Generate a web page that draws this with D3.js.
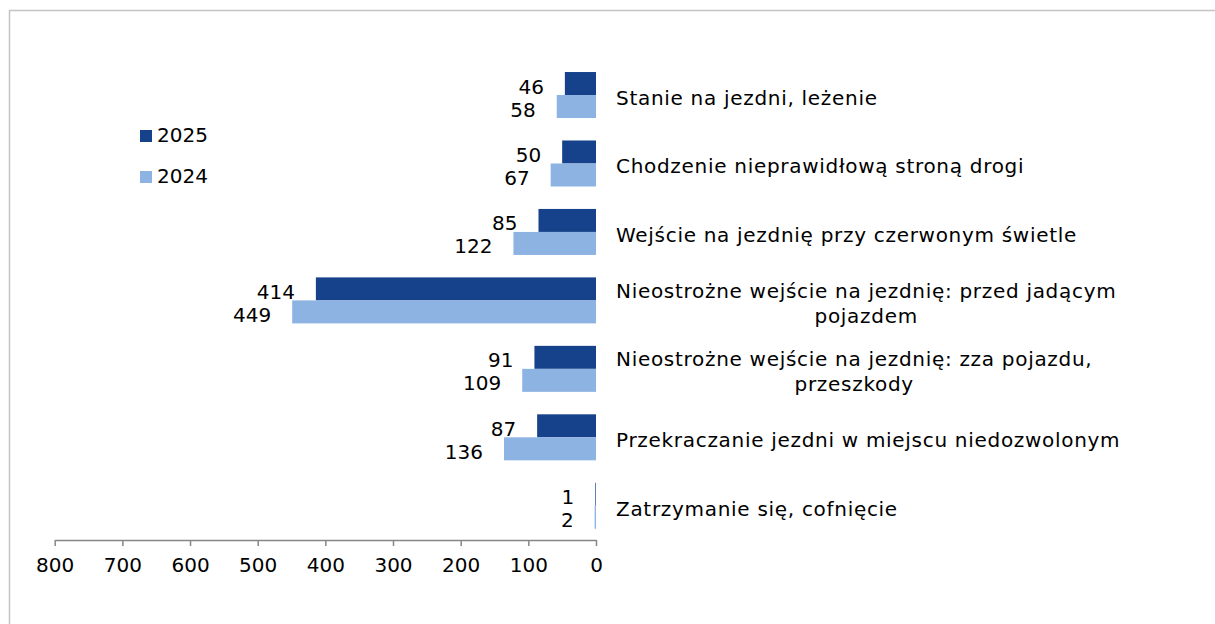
<!DOCTYPE html>
<html>
<head>
<meta charset="utf-8">
<script src="https://cdn.jsdelivr.net/npm/d3@7"></script>
<style>
  html, body { margin: 0; padding: 0; background: #fff; }
  svg { display: block; }
  text { font-family: Verdana, "DejaVu Sans", sans-serif; font-size: 20px; fill: #000; }
  .cat { letter-spacing: 0.7px; }
</style>
</head>
<body>
<svg id="chart" width="1215" height="624"></svg>
<script>
// ---- data ----
const categories = [
  ["Stanie na jezdni, leżenie"],
  ["Chodzenie nieprawidłową stroną drogi"],
  ["Wejście na jezdnię przy czerwonym świetle"],
  ["Nieostrożne wejście na jezdnię: przed jadącym", "pojazdem"],
  ["Nieostrożne wejście na jezdnię: zza pojazdu,", "przeszkody"],
  ["Przekraczanie jezdni w miejscu niedozwolonym"],
  ["Zatrzymanie się, cofnięcie"]
];
const seriesNames = ["2025", "2024"];
const values2025 = [46, 50, 85, 414, 91, 87, 1];
const values2024 = [58, 67, 122, 449, 109, 136, 2];
const tickValues = [0, 100, 200, 300, 400, 500, 600, 700, 800];
const colors = { "2025": "#15428B", "2024": "#8DB3E2" };

// ---- layout ----
const svg = d3.select("#chart");
const catKeys = categories.map(c => c.join(" "));
const series = { "2025": values2025, "2024": values2024 };

// frame
svg.append("rect")
  .attr("x", 9.5).attr("y", 10.5)
  .attr("width", 1220).attr("height", 630)
  .attr("fill", "none").attr("stroke", "#c4c4c4").attr("stroke-width", 1.5);

const x = d3.scaleLinear().domain([0, 800]).range([596, 54.7]);
const y = d3.scaleBand().domain(catKeys).range([60.8, 540])
  .paddingInner(0.328).paddingOuter(0.164);
const ys = d3.scaleBand().domain(seriesNames).range([0, y.bandwidth()]);

// bars
const groups = svg.append("g").selectAll("g")
  .data(catKeys)
  .join("g")
  .attr("transform", d => `translate(0,${y(d)})`);

seriesNames.forEach(s => {
  groups.append("rect")
    .attr("x", (d, i) => x(series[s][i]))
    .attr("y", ys(s))
    .attr("width", (d, i) => x(0) - x(series[s][i]))
    .attr("height", ys.bandwidth())
    .attr("fill", colors[s]);
  groups.append("text")
    .attr("x", (d, i) => x(series[s][i]) - 21)
    .attr("y", ys(s) + ys.bandwidth() / 2 + 10)
    .attr("text-anchor", "end")
    .text((d, i) => series[s][i]);
});

// category labels
const labelX = 616;
categories.forEach((lines, i) => {
  const cy = y(catKeys[i]) + y.bandwidth() / 2;
  const g = svg.append("g");
  const texts = lines.map((ln, j) =>
    g.append("text")
      .attr("class", "cat")
      .attr("y", cy + 10 - (lines.length - 1) * 25 / 2 + j * 25)
      .text(ln));
  const widths = texts.map(t => t.node().getComputedTextLength());
  const maxW = d3.max(widths);
  texts.forEach((t, j) => {
    t.attr("x", labelX + maxW / 2).attr("text-anchor", "middle");
  });
});

// axis
const axis = d3.axisBottom(x).tickValues(tickValues).tickSize(6).tickPadding(12).tickSizeOuter(0);
const ag = svg.append("g").attr("transform", "translate(0,540)").call(axis);
ag.select(".domain").attr("stroke", "#868686").attr("stroke-width", 1.5);
ag.selectAll(".tick line").attr("stroke", "#868686").attr("stroke-width", 1.5);
ag.selectAll(".tick text")
  .style("font-family", 'Verdana, "DejaVu Sans", sans-serif')
  .style("font-size", "20px").attr("fill", "#000");

// legend
const legend = svg.append("g");
seriesNames.forEach((s, i) => {
  legend.append("rect")
    .attr("x", 140).attr("y", 130 + i * 41)
    .attr("width", 12).attr("height", 12)
    .attr("fill", colors[s]);
  legend.append("text")
    .attr("x", 157).attr("y", 141.5 + i * 41)
    .text(s);
});
</script>
</body>
</html>
